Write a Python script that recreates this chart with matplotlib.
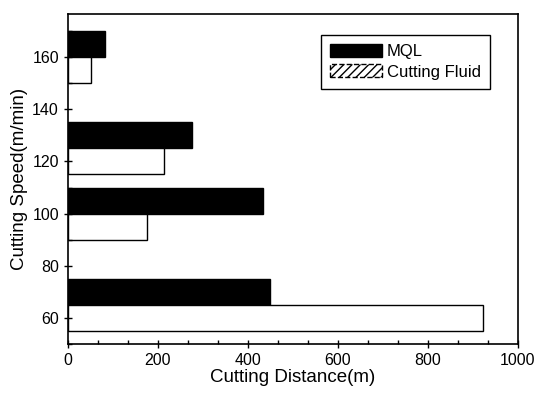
import matplotlib
matplotlib.use("Agg")
import matplotlib.pyplot as plt
import matplotlib.patches as mpatches
from matplotlib.ticker import MultipleLocator

# Cutting speed (m/min) groups and cutting distance (m) per lubrication
speeds = [65, 100, 125, 160]
mql = [449, 434, 275, 82]
cutting_fluid = [922, 176, 214, 50]

plt.rcParams.update({"font.family": ["Liberation Sans", "DejaVu Sans"]})

fig = plt.figure(figsize=(5.38, 4.01), dpi=100)
ax = fig.add_axes([0.1264, 0.142, 0.8364, 0.823])

bar_h = 10
ax.barh([s + bar_h / 2 for s in speeds], mql, height=bar_h,
        color="black", edgecolor="black", linewidth=1)
ax.barh([s - bar_h / 2 for s in speeds], cutting_fluid, height=bar_h,
        color="white", edgecolor="black", linewidth=1)

ax.set_xlim(0, 1000)
ax.set_ylim(50, 176.5)
ax.xaxis.set_major_locator(MultipleLocator(200))
ax.xaxis.set_minor_locator(MultipleLocator(200 / 3))
ax.yaxis.set_major_locator(MultipleLocator(20))
ax.yaxis.set_minor_locator(MultipleLocator(10))
ax.tick_params(which="major", direction="inout", length=6, width=1,
               labelsize=11.5, colors="black")
ax.tick_params(which="minor", direction="in", length=3, width=1)
for sp in ax.spines.values():
    sp.set_linewidth(1.2)
    sp.set_color("black")

ax.set_xlabel("Cutting Distance(m)", fontsize=13.5, labelpad=1)
ax.set_ylabel("Cutting Speed(m/min)", fontsize=13.5, labelpad=3)

handles = [mpatches.Patch(facecolor="black", edgecolor="black", label="MQL"),
           mpatches.Patch(facecolor="white", edgecolor="black", hatch="////",
                          linestyle="--", label="Cutting Fluid")]
leg = ax.legend(handles=handles, loc="upper left",
                bbox_to_anchor=(0.562, 0.936), borderaxespad=0,
                fontsize=12, handlelength=3.1, handleheight=0.8,
                handletextpad=0.3, labelspacing=0.3, borderpad=0.55,
                fancybox=False, edgecolor="black", framealpha=1)
leg.get_frame().set_linewidth(1)

fig.savefig("out.png", dpi=100)
